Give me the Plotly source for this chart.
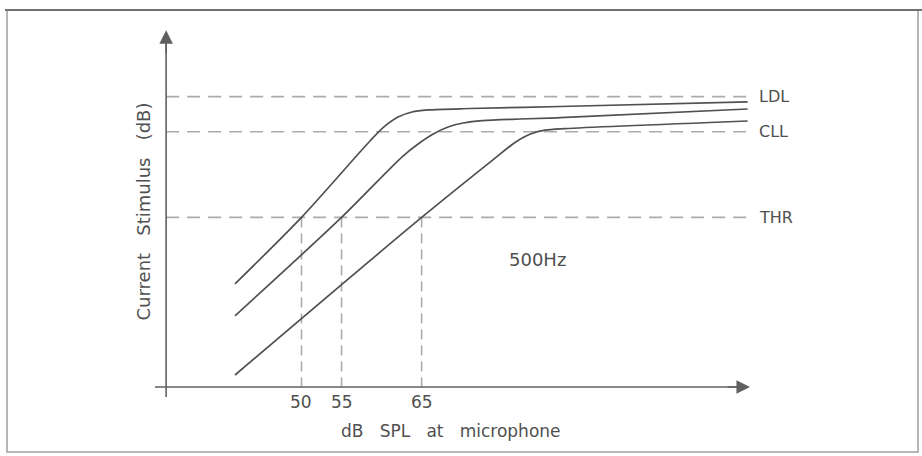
import plotly.graph_objects as go

# ---- data (schematic) ----
spl_curve1 = [41.7, 50.0, 58.55, 60.4, 62.05, 63.8, 65.8, 71.0, 82.3, 105.7]
stim_curve1 = [12.9, 21.2, 30.75, 32.6, 33.75, 34.38, 34.63, 34.81, 35.06, 35.63]

spl_curve2 = [41.7, 55.0, 62.6, 64.6, 66.5, 68.3, 70.2, 72.6, 77.3, 82.3, 105.7]
stim_curve2 = [8.9, 21.2, 28.8, 30.4, 31.65, 32.5, 33.0, 33.3, 33.5, 33.66, 34.75]

spl_curve3 = [41.7, 65.0, 73.9, 76.7, 78.5, 80.4, 82.9, 105.7]
stim_curve3 = [1.5, 21.2, 28.4, 30.6, 31.6, 32.1, 32.3, 33.25]

level_names = ["LDL", "CLL", "THR"]
level_values = [36.3, 31.9, 21.2]

tick_values = [50, 55, 65]
tick_labels = ["50", "55", "65"]

x_title = "dB\u00a0\u00a0\u00a0SPL\u00a0\u00a0\u00a0at\u00a0\u00a0\u00a0microphone"
y_title = "Current\u00a0\u00a0\u00a0Stimulus\u00a0\u00a0\u00a0(dB)"
note_text = "500Hz"

# axis geometry (data units)
x_origin = 33.1
x_axis_start = 31.7
x_axis_end = 106.0
y_axis_bottom = -1.25
y_axis_top = 44.6
line_end = 105.7

CURVE = "#505050"
DASH = "#ababab"
AXIS = "#606060"
TEXT = "#505050"
FONT = "DejaVu Sans"

fig = go.Figure()

# dashed horizontal level lines
for v in level_values:
    fig.add_trace(go.Scatter(x=[x_origin, line_end], y=[v, v], mode="lines",
                             line=dict(color=DASH, width=1.6, dash="13px,8px"),
                             hoverinfo="skip"))

# dashed vertical drop lines from THR
thr = level_values[2]
for t in tick_values:
    fig.add_trace(go.Scatter(x=[t, t], y=[thr, 0], mode="lines",
                             line=dict(color=DASH, width=1.6, dash="10px,6px"),
                             hoverinfo="skip"))

# curves
for xs, ys in [(spl_curve1, stim_curve1), (spl_curve2, stim_curve2), (spl_curve3, stim_curve3)]:
    fig.add_trace(go.Scatter(x=xs, y=ys, mode="lines",
                             line=dict(color=CURVE, width=1.7, shape="spline", smoothing=0.8),
                             hoverinfo="skip"))

# axis lines (with small overshoot cross at origin)
fig.add_trace(go.Scatter(x=[x_axis_start, x_axis_end - 1.5], y=[0, 0], mode="lines",
                         line=dict(color=AXIS, width=1.6), hoverinfo="skip"))
fig.add_trace(go.Scatter(x=[x_origin, x_origin], y=[y_axis_bottom, y_axis_top - 1.5], mode="lines",
                         line=dict(color=AXIS, width=1.6), hoverinfo="skip"))

annotations = []
# arrowheads
annotations.append(dict(x=x_axis_end, y=0, ax=x_axis_end - 3, ay=0, xref="x", yref="y",
                        axref="x", ayref="y", text="", showarrow=True, arrowhead=2,
                        arrowsize=1.7, arrowwidth=1.6, arrowcolor=AXIS, standoff=0))
annotations.append(dict(x=x_origin, y=y_axis_top, ax=x_origin, ay=y_axis_top - 3, xref="x", yref="y",
                        axref="x", ayref="y", text="", showarrow=True, arrowhead=2,
                        arrowsize=1.7, arrowwidth=1.6, arrowcolor=AXIS, standoff=0))

# level labels
for name, v in zip(level_names, level_values):
    annotations.append(dict(x=106.9, y=v, xref="x", yref="y", text=name, showarrow=False,
                            xanchor="left", yanchor="middle",
                            font=dict(family=FONT, size=16, color=TEXT)))
# tick labels
for t, lab in zip(tick_values, tick_labels):
    annotations.append(dict(x=t, y=-1.9, xref="x", yref="y", text=lab, showarrow=False,
                            xanchor="center", yanchor="middle",
                            font=dict(family=FONT, size=17, color=TEXT)))
# titles
annotations.append(dict(x=68.7, y=-5.5, xref="x", yref="y", text=x_title, showarrow=False,
                        xanchor="center", yanchor="middle",
                        font=dict(family=FONT, size=17, color=TEXT)))
annotations.append(dict(x=30.3, y=21.9, xref="x", yref="y", text=y_title, showarrow=False,
                        textangle=-90, xanchor="center", yanchor="middle",
                        font=dict(family=FONT, size=18, color=TEXT)))
annotations.append(dict(x=79.45, y=15.9, xref="x", yref="y", text=note_text, showarrow=False,
                        xanchor="center", yanchor="middle",
                        font=dict(family=FONT, size=18, color=TEXT)))

shapes = [
    dict(type="rect", xref="paper", yref="paper", x0=7/922, x1=918/922, y0=1-452/456, y1=1-10/456,
         line=dict(color="#a0a0a0", width=1.5)),
    dict(type="line", xref="paper", yref="paper", x0=5/922, x1=1, y0=1-10/456, y1=1-10/456,
         line=dict(color="#707070", width=2)),
]

fig.update_layout(
    width=922, height=456,
    margin=dict(l=0, r=0, t=0, b=0),
    paper_bgcolor="white", plot_bgcolor="white",
    showlegend=False,
    xaxis=dict(range=[12.36, 127.47], visible=False, fixedrange=True),
    yaxis=dict(range=[-8.625, 48.375], visible=False, fixedrange=True),
    annotations=annotations,
    shapes=shapes,
)

fig.write_html("out.html", config={"displayModeBar": False},
               post_script="document.body.style.margin='0';document.body.style.padding='0';")
